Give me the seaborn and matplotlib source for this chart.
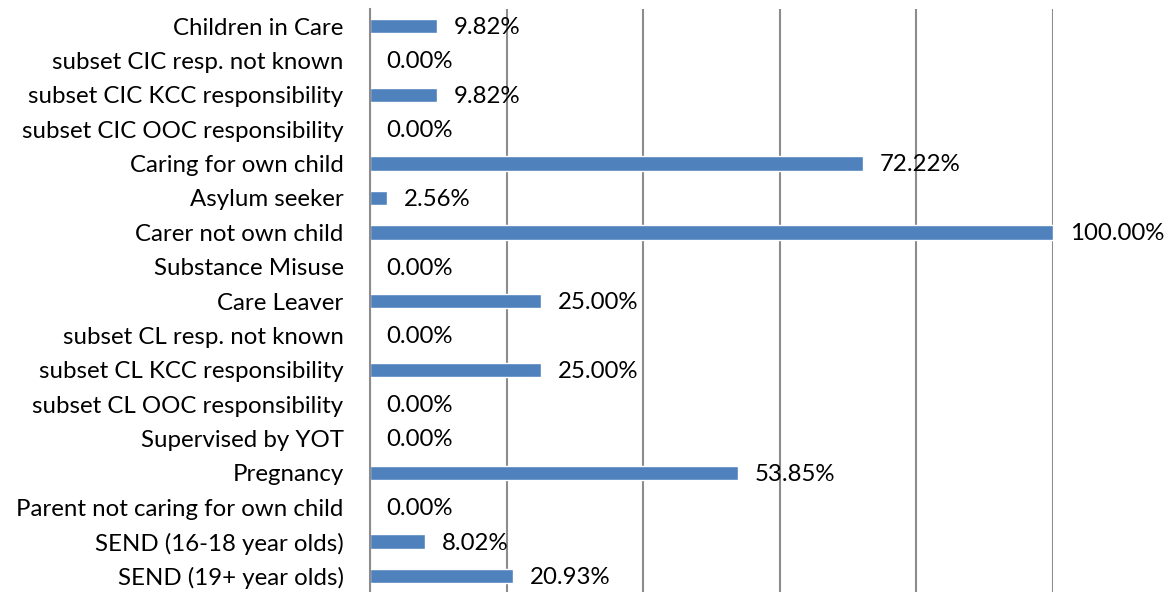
import numpy as np
import pandas as pd
import seaborn as sns
import matplotlib.pyplot as plt

categories = [
    "Children in Care",
    "subset CIC resp. not known",
    "subset CIC KCC responsibility",
    "subset CIC OOC responsibility",
    "Caring for own child",
    "Asylum seeker",
    "Carer not own child",
    "Substance Misuse",
    "Care Leaver",
    "subset CL resp. not known",
    "subset CL KCC responsibility",
    "subset CL OOC responsibility",
    "Supervised by YOT",
    "Pregnancy",
    "Parent not caring for own child",
    "SEND (16-18 year olds)",
    "SEND (19+ year olds)",
]
percentages = [9.82, 0.00, 9.82, 0.00, 72.22, 2.56, 100.00, 0.00, 25.00,
               0.00, 25.00, 0.00, 0.00, 53.85, 0.00, 8.02, 20.93]

df = pd.DataFrame({"category": categories, "pct": percentages})

sns.set_theme(style="white")
plt.rcParams['font.family'] = ['Lato', 'DejaVu Sans']

fig = plt.figure(figsize=(11.73, 5.92), dpi=100)
ax = fig.add_axes([370 / 1173, -0.002, (1053 - 370) / 1173, 0.987])

sns.barplot(data=df, y="category", x="pct", orient="h", color="#4F81BD",
            saturation=1, width=0.42, ax=ax, zorder=3)

ax.set_xlim(0, 100)
ax.set_ylim(len(categories) - 0.5, -0.5)
ax.set_xticks([0, 20, 40, 60, 80, 100])
ax.set_xticklabels([])
ax.grid(axis="x", color="#8c8c8c", linewidth=1.5, zorder=0)
ax.tick_params(axis="x", length=0)

for s in ["top", "right", "bottom"]:
    ax.spines[s].set_visible(False)
ax.spines["left"].set_color("#8c8c8c")
ax.spines["left"].set_linewidth(1.5)
ax.spines["left"].set_zorder(4)

# category boundary tick marks
ax.set_yticks(np.arange(len(categories) + 1) - 0.5, minor=True)
ax.tick_params(axis="y", which="minor", length=6, width=1.5, color="#8c8c8c", direction="out")
ax.tick_params(axis="y", which="major", length=0, pad=19, labelsize=17.3, labelcolor="black")
ax.set_xlabel("")
ax.set_ylabel("")

for i, v in enumerate(percentages):
    ax.annotate(f"{v:.2f}%", xy=(v, i), xytext=(12, -1), textcoords="offset points",
                va="center", ha="left", fontsize=17.3, color="black",
                annotation_clip=False)

fig.savefig("out.png", dpi=100)
